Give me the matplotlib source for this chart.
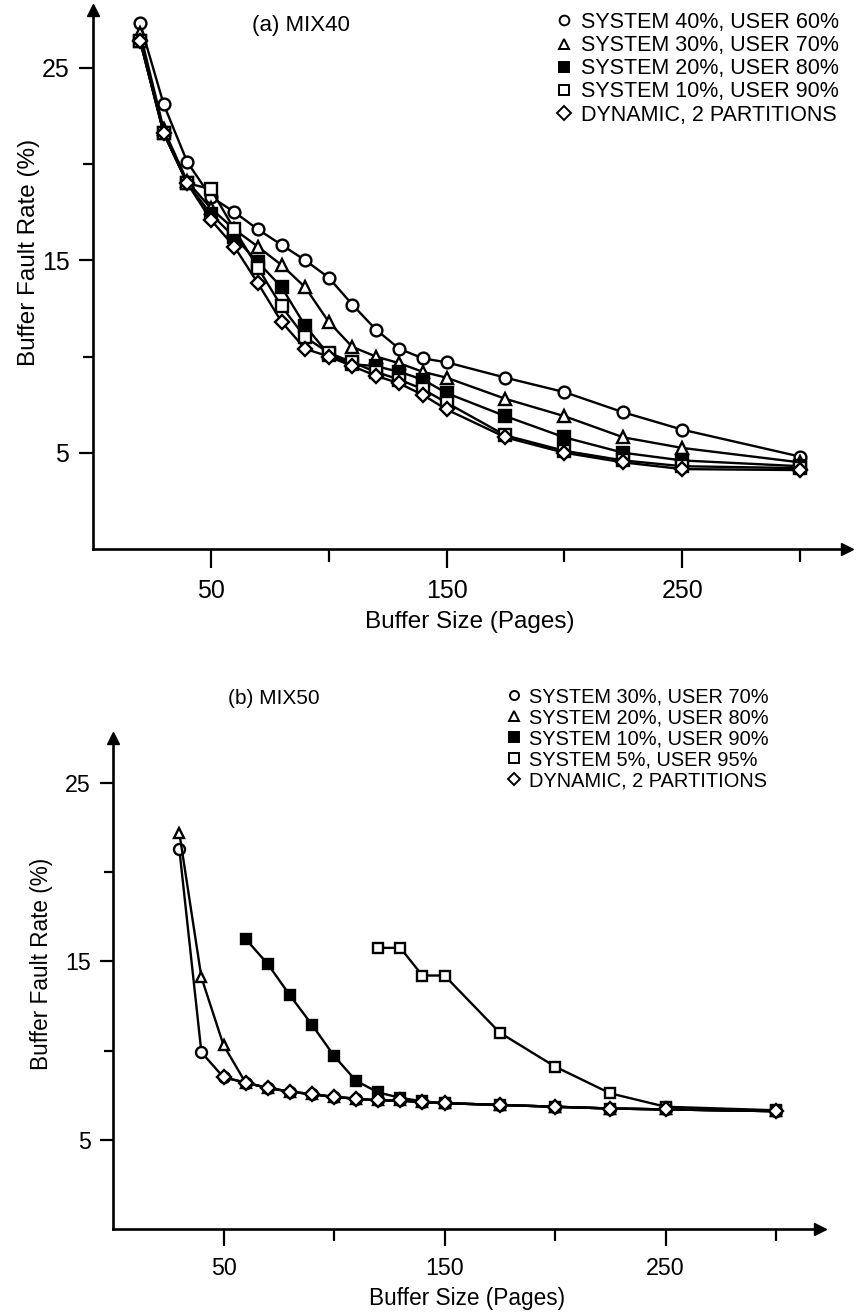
import matplotlib
matplotlib.use("Agg")
import matplotlib.pyplot as plt
from matplotlib.lines import Line2D

plt.rcParams["font.family"] = ["Liberation Sans", "DejaVu Sans"]

W, H, DPI = 858, 1312, 100

# ---- (a) MIX40 ----
a_x = [20, 30, 40, 50, 60, 70, 80, 90, 100, 110, 120, 130, 140, 150, 175, 200, 225, 250, 300]
a_sys40 = [27.3, 23.1, 20.1, 18.3, 17.5, 16.6, 15.8, 15.0, 14.1, 12.7, 11.4, 10.4, 9.9, 9.7, 8.9, 8.15, 7.1, 6.2, 4.8]
a_sys30 = [26.8, 21.8, 19.1, 17.7, 16.6, 15.7, 14.75, 13.6, 11.8, 10.5, 10.0, 9.65, 9.2, 8.9, 7.8, 6.9, 5.8, 5.25, 4.5]
a_sys20 = [26.4, 21.6, 19.0, 17.4, 16.2, 14.9, 13.6, 11.6, 10.1, 9.6, 9.5, 9.2, 8.8, 8.1, 6.9, 5.8, 5.0, 4.6, 4.3]
a_sys10 = [26.4, 21.6, 19.0, 18.7, 16.6, 14.6, 12.6, 11.0, 10.2, 9.7, 9.2, 8.8, 8.3, 7.6, 5.9, 5.1, 4.6, 4.3, 4.2]
a_dyn = [26.4, 21.6, 19.0, 17.1, 15.7, 13.8, 11.8, 10.4, 10.0, 9.5, 9.0, 8.6, 8.0, 7.25, 5.8, 5.0, 4.5, 4.15, 4.1]
a_labels = ["SYSTEM 40%, USER 60%", "SYSTEM 30%, USER 70%", "SYSTEM 20%, USER 80%",
            "SYSTEM 10%, USER 90%", "DYNAMIC, 2 PARTITIONS"]

# ---- (b) MIX50 ----
b_x_low = [30, 40, 50, 60, 70, 80, 90, 100, 110, 120, 130, 140, 150, 175, 200, 225, 250, 300]
b_sys30 = [21.3, 9.9, 8.5, 8.2, 7.9, 7.7, 7.55, 7.4, 7.3, 7.2, 7.2, 7.1, 7.05, 6.95, 6.85, 6.75, 6.7, 6.6]
b_sys20 = [22.2, 14.1, 10.3, 8.2, 7.9, 7.7, 7.55, 7.4, 7.3, 7.2, 7.2, 7.1, 7.05, 6.95, 6.85, 6.75, 6.7, 6.6]
b_x_sys10 = [60, 70, 80, 90, 100, 110, 120, 130, 140, 150, 175, 200, 225, 250, 300]
b_sys10 = [16.25, 14.85, 13.1, 11.45, 9.7, 8.3, 7.65, 7.35, 7.15, 7.05, 6.95, 6.85, 6.75, 6.7, 6.6]
b_x_sys5 = [120, 130, 140, 150, 175, 200, 225, 250, 300]
b_sys5 = [15.75, 15.75, 14.2, 14.2, 11.0, 9.1, 7.6, 6.85, 6.65]
b_x_dyn = [50, 60, 70, 80, 90, 100, 110, 120, 130, 140, 150, 175, 200, 225, 250, 300]
b_dyn = [8.5, 8.2, 7.9, 7.7, 7.55, 7.4, 7.3, 7.2, 7.2, 7.1, 7.05, 6.95, 6.85, 6.75, 6.7, 6.6]
b_labels = ["SYSTEM 30%, USER 70%", "SYSTEM 20%, USER 80%", "SYSTEM 10%, USER 90%",
            "SYSTEM 5%, USER 95%", "DYNAMIC, 2 PARTITIONS"]

MARKERS = [("o", "white"), ("^", "white"), ("s", "black"), ("s", "white"), ("D", "white")]


def px_axes(fig, left, top, right, bottom):
    return fig.add_axes([left / W, 1 - bottom / H, (right - left) / W, (bottom - top) / H])


def style_axes(ax, xmax, ymax, s):
    ax.set_xlim(0, xmax)
    ax.set_ylim(0, ymax)
    for side in ("top", "right"):
        ax.spines[side].set_visible(False)
    for side in ("left", "bottom"):
        ax.spines[side].set_linewidth(1.9)
    ax.plot(1, 0, ">k", ms=9 * s, transform=ax.get_yaxis_transform(), clip_on=False)
    ax.plot(0, 1, "^k", ms=9 * s, transform=ax.get_xaxis_transform(), clip_on=False)
    ax.set_xticks([50, 150, 250])
    ax.set_xticks([100, 200, 300], minor=True)
    ax.set_yticks([5, 15, 25])
    ax.set_yticks([10, 20], minor=True)
    ax.tick_params(axis="x", which="major", length=13.5 * s, width=1.6, pad=8 * s, labelsize=18 * s)
    ax.tick_params(axis="x", which="minor", length=9 * s, width=1.6)
    ax.tick_params(axis="y", which="major", length=10 * s, width=1.6, pad=7 * s, labelsize=18 * s)
    ax.tick_params(axis="y", which="minor", length=7 * s, width=1.6)


def draw_series(ax, xs_list, ys_list, s):
    for (m, fc), xs, ys in zip(MARKERS, xs_list, ys_list):
        ax.plot(xs, ys, color="black", lw=1.7, marker=m, ms=(7.5 if m == "D" else 8.5) * s,
                mfc=fc, mec="black", mew=1.7, clip_on=False)


def legend(ax, labels, x, y, s):
    handles = [Line2D([], [], ls="none", marker=m, ms=7 * s, mfc=fc, mec="black", mew=1.4)
               for m, fc in MARKERS]
    ax.legend(handles, labels, loc="upper left", bbox_to_anchor=(x / W, 1 - y / H),
              bbox_transform=ax.figure.transFigure, frameon=False, fontsize=15.5 * s,
              handlelength=0.6, handletextpad=0.45, labelspacing=0.1, borderpad=0,
              borderaxespad=0)


fig = plt.figure(figsize=(W / DPI, H / DPI), dpi=DPI)

# top panel: x0=93px, 2.357 px/unit; y0=549px, 19.25 px/unit
ax1 = px_axes(fig, 93, 549 - 28 * 19.25, 93 + 320 * 2.357, 549)
style_axes(ax1, 320, 28, 1.0)
draw_series(ax1, [a_x] * 5, [a_sys40, a_sys30, a_sys20, a_sys10, a_dyn], 1.0)
ax1.set_xlabel("Buffer Size (Pages)", fontsize=17.5, labelpad=6)
ax1.set_ylabel("Buffer Fault Rate (%)", fontsize=17.5)
ax1.yaxis.set_label_coords(-0.07, 0.55)
fig.text(252 / W, 1 - 25 / H, "(a) MIX40", fontsize=16, va="center", ha="left")
legend(ax1, a_labels, 558, 12, 1.0)

# bottom panel: x0=113px, 2.21 px/unit; y0=1229px, 17.85 px/unit
ax2 = px_axes(fig, 113, 1229 - 27.5 * 17.85, 113 + 320 * 2.21, 1229)
style_axes(ax2, 320, 27.5, 0.93)
draw_series(ax2, [b_x_low, b_x_low, b_x_sys10, b_x_sys5, b_x_dyn],
            [b_sys30, b_sys20, b_sys10, b_sys5, b_dyn], 0.93)
ax2.set_xlabel("Buffer Size (Pages)", fontsize=16.3, labelpad=5)
ax2.set_ylabel("Buffer Fault Rate (%)", fontsize=16.3)
ax2.yaxis.set_label_coords(-0.085, 0.54)
fig.text(228 / W, 1 - 698 / H, "(b) MIX50", fontsize=15, va="center", ha="left")
legend(ax2, b_labels, 508, 687, 0.93)

fig.savefig("out.png", dpi=DPI)
